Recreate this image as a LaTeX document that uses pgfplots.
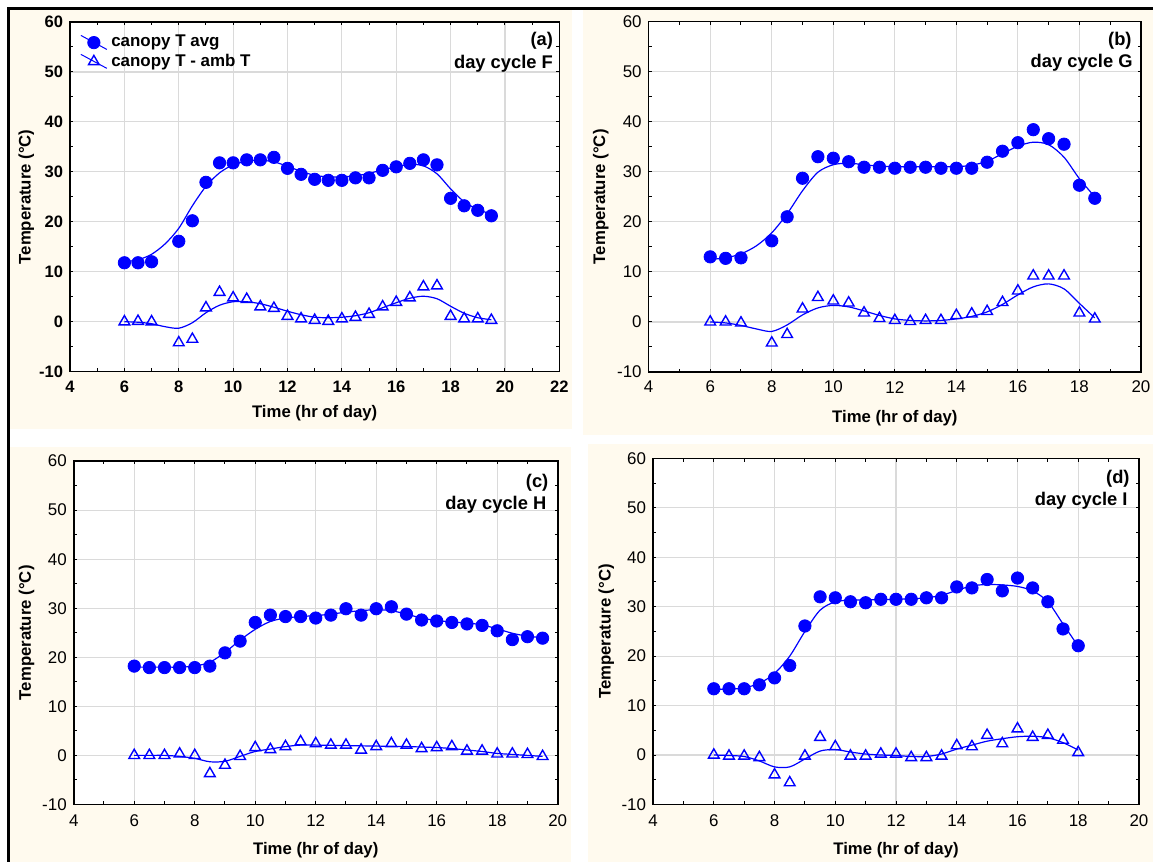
\documentclass[border=0pt]{standalone}
\usepackage{fontspec}
\setmainfont{Liberation Sans}
\usepackage{pgfplots}
\pgfplotsset{compat=1.18}
\definecolor{cream}{RGB}{255,250,238}
\definecolor{gridc}{RGB}{218,218,218}
\definecolor{mblue}{RGB}{0,0,255}
\tikzset{ptxt/.style={font=\bfseries\fontsize{9.2}{11}\selectfont, anchor=east, inner sep=0pt}}
\pgfplotsset{
  panel/.style={
    scale only axis, anchor=south west,
    xmin=4, ymin=-10, ymax=60,
    ytick={-10,0,...,60},
    minor x tick num=1, minor y tick num=1,
    tick align=inside,
    major tick length=1.6pt, minor tick length=1.6pt,
    grid=major,
    major grid style={line width=0.6pt, draw=gridc},
    axis line style={line width=0.8pt},
    every tick/.style={black, line width=0.5pt},
    tick label style={font=\fontsize{8.5}{9}\selectfont},
    /pgf/number format/assume math mode=true,
    xticklabel style={anchor=center, yshift=-7.6pt},
    label style={font=\bfseries\fontsize{8.4}{10}\selectfont},
    xlabel={Time (hr of day)},
    ylabel={Temperature (°C)},
    axis background/.style={fill=white},
    legend image code/.code={
      \draw[mblue,line width=0.5pt] (0pt,3.6pt) -- (13pt,-3.4pt);
      \draw[##1] plot coordinates {(6.5pt,0pt)};
    },
  },
  circ/.style={only marks, mark=*, mark size=3.1pt, color=mblue},
  tri/.style={only marks, mark=triangle, mark size=3.1pt, color=mblue, mark options={line width=0.7pt}},
  fit/.style={smooth, no marks, color=mblue, line width=0.6pt, forget plot},
}
\begin{document}
\begin{tikzpicture}
\path (0pt,0pt) rectangle (578.5pt,-432.5pt);
\fill[cream] (5pt,-5pt) rectangle (287pt,-215.5pt);
\fill[cream] (292.5pt,-5pt) rectangle (578.5pt,-218.5pt);
\fill[cream] (5pt,-224.5pt) rectangle (286.5pt,-432.5pt);
\fill[cream] (295pt,-223pt) rectangle (578.5pt,-432.5pt);
\draw[line width=1.5pt] (3.75pt,-4.5pt) -- (578.5pt,-4.5pt);
\draw[line width=1.5pt] (4.5pt,-3.75pt) -- (4.5pt,-432.5pt);

% ---------------- (a)
\begin{axis}[panel, at={(35.15pt,-186.5pt)}, width=245.5pt, height=175.5pt,
  xmax=22, xtick={4,6,...,22},
  tick label style={font=\bfseries\fontsize{8.3}{9}\selectfont},
  xlabel style={at={(axis description cs:0.5,0)}, anchor=center, yshift=-21pt},
  ylabel style={at={(axis description cs:0,0.5)}, anchor=center, yshift=22pt},
  legend style={draw=none, fill=none, at={(rel axis cs:0,1)}, anchor=north west,
    xshift=5pt, yshift=-4.5pt, font=\bfseries\fontsize{8.5}{10}\selectfont, row sep=-2pt, inner sep=0pt},
  legend cell align=left]
\addplot[fit] coordinates {(6,12.0)(6.5,12.4)(7,13.5)(7.5,15.6)(8,18.7)(8.5,23.2)(9,27.1)(9.5,29.8)(10,31.4)(10.5,32.1)(11,32.3)(11.5,32.0)(12,31.1)(12.5,30.1)(13,29.3)(13.5,29.0)(14,29.0)(14.5,29.2)(15,29.7)(15.5,30.4)(16,31.0)(16.5,31.5)(17,31.2)(17.5,29.6)(18,26.6)(18.5,24.0)(19,22.5)(19.5,21.5)};
\addplot[fit] coordinates {(6,0)(6.5,-0.1)(7,-0.4)(7.5,-1.0)(8,-1.3)(8.5,-0.2)(9,1.8)(9.5,3.3)(10,4.0)(10.5,4.0)(11,3.6)(11.5,2.9)(12,2.1)(12.5,1.4)(13,0.9)(13.5,0.8)(14,0.9)(14.5,1.2)(15,1.8)(15.5,2.8)(16,3.8)(16.5,4.7)(17,5.1)(17.5,4.6)(18,3.1)(18.5,1.7)(19,0.8)(19.5,0.4)};
\addplot[circ] coordinates {(6,11.8)(6.5,11.8)(7,12.0)(8,16.1)(8.5,20.2)(9,27.9)(9.5,31.8)(10,31.8)(10.5,32.4)(11,32.4)(11.5,32.9)(12,30.7)(12.5,29.5)(13,28.5)(13.5,28.3)(14,28.3)(14.5,28.8)(15,28.8)(15.5,30.3)(16,31.0)(16.5,31.7)(17,32.4)(17.5,31.4)(18,24.7)(18.5,23.2)(19,22.3)(19.5,21.2)};
\addlegendentry{canopy T avg}
\addplot[tri] coordinates {(6,0)(6.5,0.1)(7,0)(8,-4.2)(8.5,-3.5)(9,2.8)(9.5,5.9)(10,4.8)(10.5,4.5)(11,3.0)(11.5,2.7)(12,1.1)(12.5,0.6)(13,0.3)(13.5,0.1)(14,0.6)(14.5,0.9)(15,1.5)(15.5,3.0)(16,3.9)(16.5,4.8)(17,7.0)(17.5,7.2)(18,1.1)(18.5,0.6)(19,0.6)(19.5,0.3)};
\addlegendentry{canopy T - amb T}
\node[ptxt, xshift=-3pt, yshift=-9.5pt] at (rel axis cs:1,1) {(a)};
\node[ptxt, xshift=-3pt, yshift=-21pt] at (rel axis cs:1,1) {day cycle F};
\end{axis}

% ---------------- (b)
\begin{axis}[panel, at={(325.5pt,-186.65pt)}, width=247pt, height=175.85pt,
  xmax=20, xtick={4,6,...,20},
  xlabel style={at={(axis description cs:0.5,0)}, anchor=center, yshift=-23pt},
  ylabel style={at={(axis description cs:0,0.5)}, anchor=center, yshift=24pt}]
\addplot[fit] coordinates {(6,12.5)(6.5,12.8)(7,13.6)(7.5,15.2)(8,17.8)(8.5,21.6)(9,26.2)(9.5,29.9)(10,31.4)(10.5,31.7)(11,31.4)(11.5,31.1)(12,31.0)(12.5,31.0)(13,31.0)(13.5,31.0)(14,31.0)(14.5,31.3)(15,32.1)(15.5,33.6)(16,35.1)(16.5,35.9)(17,35.4)(17.5,32.9)(18,28.6)(18.5,25.0)};
\addplot[fit] coordinates {(6,0)(6.5,-0.2)(7,-0.7)(7.5,-1.4)(8,-1.9)(8.5,-0.6)(9,1.4)(9.5,2.8)(10,3.3)(10.5,3.0)(11,2.2)(11.5,1.3)(12,0.6)(12.5,0.3)(13,0.2)(13.5,0.3)(14,0.6)(14.5,1.1)(15,2.0)(15.5,3.5)(16,5.4)(16.5,7.0)(17,7.6)(17.5,6.6)(18,3.7)(18.5,0.8)};
\addplot[circ] coordinates {(6,13.0)(6.5,12.7)(7,12.8)(8,16.2)(8.5,21.0)(9,28.7)(9.5,33.0)(10,32.7)(10.5,32.0)(11,30.9)(11.5,30.9)(12,30.7)(12.5,30.9)(13,30.9)(13.5,30.7)(14,30.7)(14.5,30.7)(15,31.9)(15.5,34.1)(16,35.8)(16.5,38.4)(17,36.6)(17.5,35.5)(18,27.3)(18.5,24.7)};
\addplot[tri] coordinates {(6,0)(6.5,0)(7,-0.2)(8,-4.2)(8.5,-2.5)(9,2.6)(9.5,4.9)(10,4.2)(10.5,3.8)(11,1.8)(11.5,0.7)(12,0.3)(12.5,0.1)(13,0.3)(13.5,0.3)(14,1.3)(14.5,1.6)(15,2.1)(15.5,3.9)(16,6.2)(16.5,9.2)(17,9.2)(17.5,9.2)(18,1.8)(18.5,0.6)};
\node[ptxt, xshift=-4.5pt, yshift=-9.7pt] at (rel axis cs:1,1) {(b)};
\node[ptxt, xshift=-4pt, yshift=-20.7pt] at (rel axis cs:1,1) {day cycle G};
\end{axis}

% ---------------- (c)
\begin{axis}[panel, at={(37pt,-403.65pt)}, width=242.85pt, height=172.3pt,
  xmax=20, xtick={4,6,...,20},
  xticklabel style={yshift=-0.3pt},
  xlabel style={at={(axis description cs:0.5,0)}, anchor=center, yshift=-23pt},
  ylabel style={at={(axis description cs:0,0.5)}, anchor=center, yshift=23.7pt}]
\addplot[fit] coordinates {(6,18.0)(6.5,18.0)(7,18.0)(7.5,18.0)(8,18.2)(8.5,19.0)(9,21.0)(9.5,23.5)(10,25.7)(10.5,27.3)(11,28.0)(11.5,28.3)(12,28.5)(12.5,28.8)(13,29.2)(13.5,29.5)(14,29.7)(14.5,29.5)(15,28.8)(15.5,28.0)(16,27.5)(16.5,27.2)(17,27.0)(17.5,26.6)(18,25.8)(18.5,24.9)(19,24.3)(19.5,24.0)};
\addplot[fit] coordinates {(6,0)(6.5,0)(7,0)(7.5,-0.2)(8,-0.6)(8.5,-1.3)(9,-1.2)(9.5,-0.2)(10,0.8)(10.5,1.3)(11,1.8)(11.5,2.1)(12,2.1)(13,2.0)(14,1.9)(15,1.8)(16,1.6)(16.5,1.4)(17,1.1)(17.5,0.8)(18,0.4)(18.5,0.2)(19,0)(19.5,-0.2)};
\addplot[circ] coordinates {(6,18.2)(6.5,17.9)(7,17.9)(7.5,17.9)(8,17.9)(8.5,18.2)(9,20.9)(9.5,23.3)(10,27.1)(10.5,28.6)(11,28.3)(11.5,28.3)(12,28.0)(12.5,28.6)(13,29.9)(13.5,28.6)(14,29.9)(14.5,30.3)(15,28.8)(15.5,27.6)(16,27.4)(16.5,27.1)(17,26.8)(17.5,26.5)(18,25.4)(18.5,23.6)(19,24.2)(19.5,23.9)};
\addplot[tri] coordinates {(6,0)(6.5,0)(7,0)(7.5,0.3)(8,0)(8.5,-3.7)(9,-2.0)(9.5,-0.2)(10,1.6)(10.5,1.2)(11,1.8)(11.5,2.8)(12,2.4)(12.5,2.1)(13,2.1)(13.5,1.1)(14,1.8)(14.5,2.4)(15,2.1)(15.5,1.4)(16,1.6)(16.5,1.8)(17,0.9)(17.5,0.9)(18,0.3)(18.5,0.3)(19,0.2)(19.5,-0.2)};
\node[ptxt, xshift=-4.5pt, yshift=-10.7pt] at (rel axis cs:1,1) {(c)};
\node[ptxt, xshift=-5.5pt, yshift=-21.7pt] at (rel axis cs:1,1) {day cycle H};
\end{axis}

% ---------------- (d)
\begin{axis}[panel, at={(327.7pt,-403.65pt)}, width=243.8pt, height=173.65pt,
  xmax=20, xtick={4,6,...,20},
  xticklabel style={yshift=-0.3pt},
  xlabel style={at={(axis description cs:0.5,0)}, anchor=center, yshift=-23pt},
  ylabel style={at={(axis description cs:0,0.5)}, anchor=center, yshift=23.5pt}]
\addplot[fit] coordinates {(6,13.3)(6.5,13.3)(7,13.6)(7.5,14.5)(8,16.5)(8.5,20.0)(9,25.0)(9.5,29.3)(10,31.0)(10.5,31.3)(11,31.4)(11.5,31.4)(12,31.5)(12.5,31.6)(13,31.8)(13.5,32.3)(14,33.3)(14.5,34.2)(15,34.5)(15.5,34.4)(16,34.1)(16.5,33.2)(17,31.0)(17.5,26.5)(18,22.0)};
\addplot[fit] coordinates {(6,0)(6.5,-0.1)(7,-0.3)(7.5,-1.2)(8,-2.4)(8.5,-2.4)(9,-0.8)(9.5,0.8)(10,1.1)(10.5,0.6)(11,0.2)(11.5,0)(12,-0.1)(12.5,-0.3)(13,-0.3)(13.5,0.2)(14,1.2)(14.5,2.0)(15,2.8)(15.5,3.3)(16,3.7)(16.5,3.8)(17,3.5)(17.5,2.5)(18,1.0)};
\addplot[circ] coordinates {(6,13.4)(6.5,13.4)(7,13.4)(7.5,14.2)(8,15.6)(8.5,18.1)(9,26.1)(9.5,32.0)(10,31.8)(10.5,31.0)(11,30.8)(11.5,31.5)(12,31.5)(12.5,31.5)(13,31.8)(13.5,31.8)(14,34.0)(14.5,33.8)(15,35.5)(15.5,33.2)(16,35.8)(16.5,33.8)(17,31.0)(17.5,25.5)(18,22.1)};
\addplot[tri] coordinates {(6,0)(6.5,-0.2)(7,-0.2)(7.5,-0.5)(8,-4.0)(8.5,-5.6)(9,-0.2)(9.5,3.6)(10,1.7)(10.5,-0.2)(11,-0.2)(11.5,0.2)(12,0.2)(12.5,-0.5)(13,-0.5)(13.5,-0.2)(14,1.9)(14.5,1.7)(15,4.0)(15.5,2.3)(16,5.3)(16.5,3.6)(17,4.0)(17.5,3.0)(18,0.5)};
\node[ptxt, xshift=-4.5pt, yshift=-10pt] at (rel axis cs:1,1) {(d)};
\node[ptxt, xshift=-5.5pt, yshift=-21.5pt] at (rel axis cs:1,1) {day cycle I};
\end{axis}
\end{tikzpicture}
\end{document}
